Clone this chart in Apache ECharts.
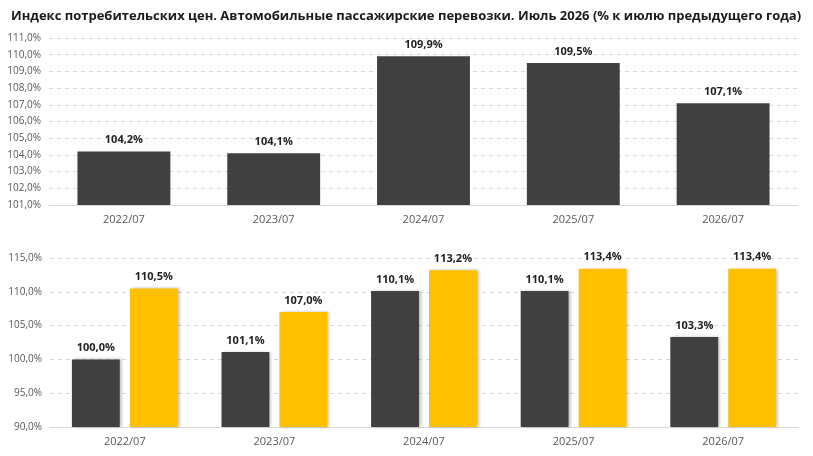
<!DOCTYPE html>
<html><head><meta charset="utf-8">
<script src="https://cdn.jsdelivr.net/npm/echarts@6/dist/echarts.min.js"></script>
<style>body{margin:0;background:#fff}#c{width:813px;height:456px}</style>
</head><body><div id="c"></div>
<script>
const categories = ['2022/07','2023/07','2024/07','2025/07','2026/07'];
const topValues = [104.2,104.1,109.9,109.5,107.1];
const bottomDark = [100.0,101.1,110.1,110.1,103.3];
const bottomYellow = [110.5,107.0,113.2,113.4,113.4];
const fmt = v => v.toFixed(1).replace('.',',') + '%';
const F = '"Open Sans", "Noto Sans", sans-serif';
const chart = echarts.init(document.getElementById('c'));
const axisLabel = {fontSize:10, color:'#595959', fontFamily:F, formatter: v => fmt(v)};
const xLabel = {fontSize:11, color:'#595959', fontFamily:F, margin:9};
const lbl = {show:true, position:'top', fontSize:11, fontWeight:'bold', color:'#222', fontFamily:F, distance:6, formatter:p=>fmt(p.value)};
const split = {show:true, lineStyle:{type:[4,4], color:'#d9d9d9'}};
chart.setOption({
  animation:false,
  title:{text:'Индекс потребительских цен. Автомобильные пассажирские перевозки. Июль 2026 ', left:6, top:5,
    textStyle:{fontSize:13, fontWeight:'bold', color:'#1a1a1a', fontFamily:F, rich:{n:{fontSize:13,color:'#1a1a1a',fontFamily:F}}},
    text:'Индекс потребительских цен. Автомобильные пассажирские перевозки. Июль 2026 {n|(% к июлю предыдущего года)}'},
  grid:[{left:49, right:15, top:38, height:167},{left:50, right:15, top:258, height:169}],
  xAxis:[
    {gridIndex:0, type:'category', data:categories, axisTick:{show:false}, axisLine:{lineStyle:{color:'#d9d9d9'}}, axisLabel:xLabel},
    {gridIndex:1, type:'category', data:categories, axisTick:{show:false}, axisLine:{lineStyle:{color:'#d9d9d9'}}, axisLabel:xLabel}
  ],
  yAxis:[
    {gridIndex:0, type:'value', min:101, max:111, interval:1, axisLabel:axisLabel, splitLine:split},
    {gridIndex:1, type:'value', min:90, max:115, interval:5, axisLabel:axisLabel, splitLine:split}
  ],
  series:[
    {type:'bar', xAxisIndex:0, yAxisIndex:0, data:topValues, barWidth:'62%', itemStyle:{color:'#404040'}, label:lbl},
    {type:'bar', xAxisIndex:1, yAxisIndex:1, data:bottomDark, barWidth:'32%', barGap:'21%', itemStyle:{color:'#404040', shadowColor:'rgba(0,0,0,0.25)', shadowBlur:3, shadowOffsetX:2}, label:lbl},
    {type:'bar', xAxisIndex:1, yAxisIndex:1, data:bottomYellow, barWidth:'32%', barGap:'21%', itemStyle:{color:'#FFC000', shadowColor:'rgba(0,0,0,0.25)', shadowBlur:3, shadowOffsetX:2}, label:lbl}
  ]
});
</script></body></html>
